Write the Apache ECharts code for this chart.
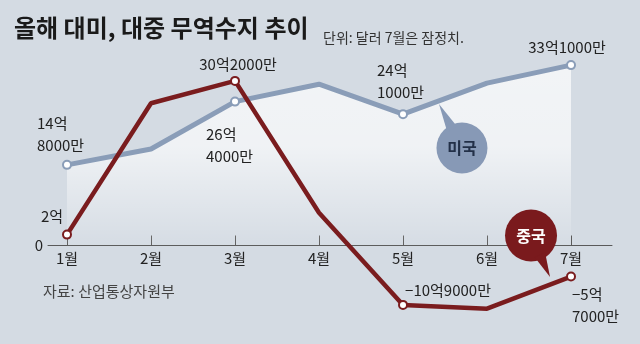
<!DOCTYPE html>
<html>
<head>
<meta charset="utf-8">
<script src="https://cdn.jsdelivr.net/npm/echarts@6/dist/echarts.min.js"></script>
<style>
html,body{margin:0;padding:0;background:#d4dbe3;}
#chart{width:640px;height:344px;}
</style>
</head>
<body>
<div id="chart"></div>
<script>
// ---- data ----
const categories = ['1월', '2월', '3월', '4월', '5월', '6월', '7월'];
const usValues = [14.8, 17.7, 26.4, 29.6, 24.1, 29.8, 33.1];
const chinaValues = [2, 26.1, 30.2, 6.0, -10.9, -11.6, -5.7];
const usLabels = ['14억\n8000만', '', '26억\n4000만', '', '24억\n1000만', '', '33억1000만'];
const chinaLabels = ['2억', '', '30억2000만', '', '−10억9000만', '', '−5억\n7000만'];
const yTickLabels = { 0: '0' };
const seriesNames = ['미국', '중국'];
const titleText = '올해 대미, 대중 무역수지 추이';
const subtitleText = '단위: 달러 7월은 잠정치.';
const sourceText = '자료: 산업통상자원부';

// ---- styling / layout (not data) ----
const FONT = '"Noto Sans CJK KR", "Noto Sans", sans-serif';
const US_COLOR = '#8a9db8';
const CN_COLOR = '#7a1c1e';
const Y_MIN = -16, Y_MAX = 36;
const GRID_TOP = 49.3, GRID_H = 283.4;
const ZERO_SHIFT = GRID_H * (0 - Y_MIN) / (Y_MAX - Y_MIN);

const usLabelLayout = [
  { align: 'left', offset: [-30, -31] }, null,
  { align: 'left', offset: [-29, 44] }, null,
  { align: 'left', offset: [-26, -32.5] }, null,
  { align: 'center', offset: [-4, -18] }
];
const chinaLabelLayout = [
  { align: 'center', offset: [-15, -18] }, null,
  { align: 'center', offset: [3, -16.5] }, null,
  { align: 'center', offset: [45, -15] }, null,
  { align: 'left', offset: [1, 29] }
];

function buildData(values, labels, layout) {
  return values.map(function (v, i) {
    const item = { value: [i + 1, v] };
    if (labels[i]) {
      item.symbol = 'emptyCircle';
      item.label = {
        show: true,
        formatter: labels[i],
        position: 'inside',
        align: layout[i].align,
        verticalAlign: 'middle',
        offset: layout[i].offset
      };
    } else {
      item.symbol = 'none';
    }
    return item;
  });
}

// tapered tail of a speech bubble: triangle from the circle edge to a tip (relative to circle centre)
function tail(r, tipDx, tipDy, halfDeg) {
  const th = Math.atan2(tipDy, tipDx);
  const h = halfDeg * Math.PI / 180;
  const rr = r * 0.85;
  const pts = [[tipDx, tipDy],
    [rr * Math.cos(th + h), rr * Math.sin(th + h)],
    [rr * Math.cos(th - h), rr * Math.sin(th - h)]];
  let minX = Infinity, minY = Infinity, maxX = -Infinity, maxY = -Infinity;
  pts.forEach(function (p) {
    minX = Math.min(minX, p[0]); maxX = Math.max(maxX, p[0]);
    minY = Math.min(minY, p[1]); maxY = Math.max(maxY, p[1]);
  });
  const d = 'path://M' + pts.map(function (p) {
    return (p[0] - minX).toFixed(2) + ',' + (p[1] - minY).toFixed(2);
  }).join(' L') + ' Z';
  return { path: d, size: [maxX - minX, maxY - minY], offset: [(minX + maxX) / 2, (minY + maxY) / 2] };
}
const usTail = tail(25.5, -23, -44, 15);
const cnTail = tail(26, 19, 41.5, 15);

function bubbleMarks(center, r, tl, fill, textColor, text) {
  return {
    silent: true,
    itemStyle: { color: fill },
    data: [
      { coord: center, symbol: 'circle', symbolSize: r * 2,
        label: { show: true, position: 'inside', formatter: text, fontSize: 16, fontWeight: 'bold',
          color: textColor, fontFamily: FONT } },
      { coord: center, symbol: tl.path, symbolSize: tl.size, symbolOffset: tl.offset,
        symbolKeepAspect: false, label: { show: false } }
    ]
  };
}

const labelBase = {
  show: false,
  fontSize: 15,
  lineHeight: 22,
  color: '#222',
  fontFamily: FONT
};

const chart = echarts.init(document.getElementById('chart'), null, { renderer: 'canvas' });
chart.setOption({
  backgroundColor: '#d4dbe3',
  animation: false,
  title: [
    { text: titleText, left: 9, top: 8,
      textStyle: { fontSize: 24, fontWeight: 'bold', color: '#1a1a1a', fontFamily: FONT, lineHeight: 30 } },
    { text: subtitleText, left: 318, top: 24,
      textStyle: { fontSize: 14, fontWeight: 'normal', color: '#333', fontFamily: FONT, lineHeight: 18 } },
    { text: sourceText, left: 38, top: 276,
      textStyle: { fontSize: 15, fontWeight: 'normal', color: '#444', fontFamily: FONT, lineHeight: 20 } }
  ],
  grid: { left: 48, width: 564, top: GRID_TOP, height: GRID_H, containLabel: false, outerBoundsMode: 'none' },
  xAxis: {
    type: 'value',
    position: 'bottom',
    offset: -ZERO_SHIFT,
    min: 0.7738,
    max: 7.488,
    axisLine: { show: true, onZero: false, lineStyle: { color: '#5a5a5a', width: 1 } },
    axisTick: { show: true, inside: true, length: 10, customValues: [1, 2, 3, 4, 5, 6, 7],
      lineStyle: { color: '#5a5a5a', width: 1 } },
    axisLabel: { customValues: [1, 2, 3, 4, 5, 6, 7],
      formatter: function (v) { return categories[Math.round(v) - 1]; },
      margin: 5, fontSize: 15, color: '#222', fontFamily: FONT },
    splitLine: { show: false }
  },
  yAxis: {
    type: 'value',
    min: Y_MIN,
    max: Y_MAX,
    interval: 4,
    axisLine: { show: false },
    axisTick: { show: false },
    splitLine: { show: false },
    axisLabel: {
      formatter: function (v) { return yTickLabels[v] !== undefined ? yTickLabels[v] : ''; },
      margin: 5, fontSize: 15, color: '#222', fontFamily: FONT
    }
  },
  series: [
    {
      name: seriesNames[0],
      type: 'line',
      data: buildData(usValues, usLabels, usLabelLayout),
      symbolSize: 8,
      lineStyle: { color: US_COLOR, width: 5 },
      itemStyle: { color: US_COLOR, borderColor: US_COLOR, borderWidth: 2.5 },
      label: labelBase,
      areaStyle: {
        color: new echarts.graphic.LinearGradient(0, 0, 0, 1, [
          { offset: 0, color: 'rgba(255,255,255,1)' },
          { offset: 0.45, color: 'rgba(255,255,255,0.92)' },
          { offset: 1, color: 'rgba(255,255,255,0.05)' }
        ])
      },
      emphasis: { disabled: true },
      z: 2,
      markPoint: bubbleMarks([5.702, 17.89], 25.5, usTail, '#8799b6', '#233048', seriesNames[0])
    },
    {
      name: seriesNames[1],
      type: 'line',
      data: buildData(chinaValues, chinaLabels, chinaLabelLayout),
      symbolSize: 8,
      lineStyle: { color: CN_COLOR, width: 4.5 },
      itemStyle: { color: CN_COLOR, borderColor: CN_COLOR, borderWidth: 2.5 },
      label: labelBase,
      emphasis: { disabled: true },
      z: 3,
      markPoint: bubbleMarks([6.524, 1.83], 26, cnTail, '#7a1a1d', '#ffffff', seriesNames[1])
    }
  ]
});
</script>
</body>
</html>
